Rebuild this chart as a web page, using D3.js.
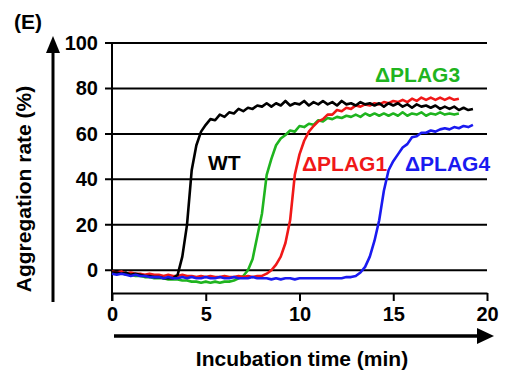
<!DOCTYPE html>
<html>
<head>
<meta charset="utf-8">
<script src="https://cdn.jsdelivr.net/npm/d3@7"></script>
<style>
  body { margin: 0; background: #fff; }
  svg { display: block; font-family: "Liberation Sans", Arial, sans-serif; font-weight: bold; }
</style>
</head>
<body>
<svg id="chart"></svg>
<script>
// sampling times (min), every 0.25 min
var times = [0,0.25,0.5,0.75,1,1.25,1.5,1.75,2,2.25,2.5,2.75,3,3.25,3.5,3.75,4,4.25,4.5,4.75,
  5,5.25,5.5,5.75,6,6.25,6.5,6.75,7,7.25,7.5,7.75,8,8.25,8.5,8.75,9,9.25,9.5,9.75,
  10,10.25,10.5,10.75,11,11.25,11.5,11.75,12,12.25,12.5,12.75,13,13.25,13.5,13.75,14,14.25,14.5,14.75,
  15,15.25,15.5,15.75,16,16.25,16.5,16.75,17,17.25,17.5,17.75,18,18.25,18.5,18.75,19,19.25];

// aggregation rate (%)
var wt = [-1,-1,-1.5,-1,-2,-1.5,-2,-2.5,-2.5,-3,-3,-3.5,-3.5,-3.5,-2,6,20,44,55,61,
  64,66.5,66,68.5,67.5,69.5,69,71,70,71.5,71,72.5,72,73.5,72,73.5,72.5,74.5,72.5,73.5,
  73,74.5,72.5,74,73,74.5,73,74,72.5,74.5,73,73.5,72.5,74,73,73.5,72.5,73.5,72,73.5,
  72.5,73.5,72,73,71.5,73,72,72.5,71.5,72.5,71,72,71,72,70.5,71.5,70.5,71];
var plag3 = [-1,-1.5,-1,-2,-2,-2.5,-2.5,-3,-3,-3.5,-3.5,-3.5,-4,-4,-4,-4.5,-4.5,-5,-5,-5.5,
  -5,-5.5,-5,-5.5,-5,-5,-4.5,-3.5,-2.5,0,5,15,25,42,49,55,58,59.5,61.5,61,
  63.5,63,64.5,64,66,65.5,67,66.5,67.5,67,68,67.5,68.5,67.5,69,68,69,68,69,68,
  69,68,69.5,68,69,68.5,69.5,68,69,68.5,69.5,68.5,69,68.5,69,null,null,null];
var plag1 = [-0.5,-1,-0.5,-1.5,-1,-1.5,-1.5,-2,-1.5,-2,-2,-2.5,-2,-2.5,-2.5,-2,-2.5,-2.5,-3,-2.5,
  -3,-2.5,-3,-3,-2.5,-3,-3,-2.5,-3,-2.5,-3,-2.5,-2.5,-1.5,0,2.5,6,12,22,42,
  51,57,61,63.5,65.5,66.5,68.5,68.5,70.5,70,71.5,71,72.5,72,73,72.5,73.5,73,74,73.5,
  74.5,74,75,74,75.5,74.5,76,75,76,75,76,75,76,75,75.5,null,null,null];
var plag4 = [-1.5,-2,-1.5,-2,-2.5,-2,-2.5,-2.5,-3,-3,-3,-3.5,-3,-3.5,-3.5,-3,-3.5,-3,-3.5,-3.5,
  -3,-3.5,-3.5,-3,-3.5,-3.5,-3,-3.5,-3.5,-3.5,-3,-3.5,-3.5,-3.5,-4,-3.5,-4,-3.5,-3.5,-4,
  -3.5,-3.5,-3.5,-3.5,-3.5,-3.5,-3.5,-3.5,-3.5,-3.5,-3,-3,-2.5,-1,1.5,6,13,22,35,44,
  48,51,54,55.5,58.5,59,60.5,60.5,61.5,61,62,62.5,62,63,62.5,63.5,63,64];

var xTicks = [0, 5, 10, 15, 20];
var yTicks = [0, 20, 40, 60, 80, 100];

var series = [
  { name: "\u0394PLAG3", values: plag3, color: "#1fb41f", lx: 375, ly: 82 },
  { name: "\u0394PLAG1", values: plag1, color: "#f01818", lx: 302, ly: 171 },
  { name: "WT",          values: wt,    color: "#000000", lx: 208, ly: 170 },
  { name: "\u0394PLAG4", values: plag4, color: "#1a1af0", lx: 405, ly: 171 }
];

var width = 514, height = 375;

var svg = d3.select("#chart").attr("width", width).attr("height", height);

var x = d3.scaleLinear().domain([0, 20]).range([112, 487]),
    y = d3.scaleLinear().domain([-10, 100]).range([293, 43]);

// panel letter
svg.append("text")
    .attr("x", 14).attr("y", 29)
    .style("font-size", "21px")
    .text("(E)");

// horizontal grid lines (they stick out left as ticks)
svg.append("g").selectAll("line")
  .data(yTicks)
  .enter().append("line")
    .attr("x1", 105).attr("x2", x(20))
    .attr("y1", function(d) { return y(d); })
    .attr("y2", function(d) { return y(d); })
    .attr("stroke", "#000").attr("stroke-width", 2);

// y tick labels
svg.append("g").selectAll("text")
  .data(yTicks)
  .enter().append("text")
    .attr("x", 98)
    .attr("y", function(d) { return y(d) + 7; })
    .attr("text-anchor", "end")
    .style("font-size", "20px")
    .text(function(d) { return d; });

// x axis
var xAxis = svg.append("g")
    .attr("transform", "translate(0," + y(-10) + ")")
    .call(d3.axisBottom(x).tickValues(xTicks).tickSize(8).tickSizeOuter(0).tickPadding(6));
xAxis.select(".domain").attr("stroke", "#000").attr("stroke-width", 2);
xAxis.selectAll(".tick line").attr("stroke", "#000").attr("stroke-width", 2);
xAxis.selectAll(".tick text")
    .attr("fill", "#000")
    .style("font-size", "20px")
    .style("font-family", "'Liberation Sans', Arial, sans-serif")
    .style("font-weight", "bold");

// y axis line
svg.append("line")
    .attr("x1", x(0)).attr("x2", x(0))
    .attr("y1", y(100)).attr("y2", y(-10) + 8)
    .attr("stroke", "#000").attr("stroke-width", 2);

// traces
var line = d3.line()
    .defined(function(d) { return d[1] != null; })
    .x(function(d) { return x(d[0]); })
    .y(function(d) { return y(d[1]); });

svg.append("g").selectAll("path")
  .data(series)
  .enter().append("path")
    .attr("d", function(s) { return line(times.map(function(t, i) { return [t, s.values[i]]; })); })
    .attr("fill", "none")
    .attr("stroke", function(s) { return s.color; })
    .attr("stroke-width", 2.6)
    .attr("stroke-linejoin", "round");

// series labels
svg.append("g").selectAll("text")
  .data(series)
  .enter().append("text")
    .attr("x", function(s) { return s.lx; })
    .attr("y", function(s) { return s.ly; })
    .attr("fill", function(s) { return s.color; })
    .style("font-size", "21px")
    .text(function(s) { return s.name; });

// arrows
var arrowY = svg.append("g");
arrowY.append("line")
    .attr("x1", 53).attr("x2", 53).attr("y1", 302).attr("y2", 48)
    .attr("stroke", "#000").attr("stroke-width", 3);
arrowY.append("path")
    .attr("d", "M53,36L46,53L60,53Z").attr("fill", "#000");

var arrowX = svg.append("g");
arrowX.append("line")
    .attr("x1", 114).attr("x2", 482).attr("y1", 336).attr("y2", 336)
    .attr("stroke", "#000").attr("stroke-width", 3.5);
arrowX.append("path")
    .attr("d", "M494,336L477,328L477,344Z").attr("fill", "#000");

// axis titles
svg.append("text")
    .attr("x", 302).attr("y", 366)
    .attr("text-anchor", "middle")
    .style("font-size", "21px")
    .text("Incubation time (min)");

svg.append("text")
    .attr("transform", "translate(31,189) rotate(-90)")
    .attr("text-anchor", "middle")
    .style("font-size", "21px")
    .text("Aggregation rate (%)");
</script>
</body>
</html>
